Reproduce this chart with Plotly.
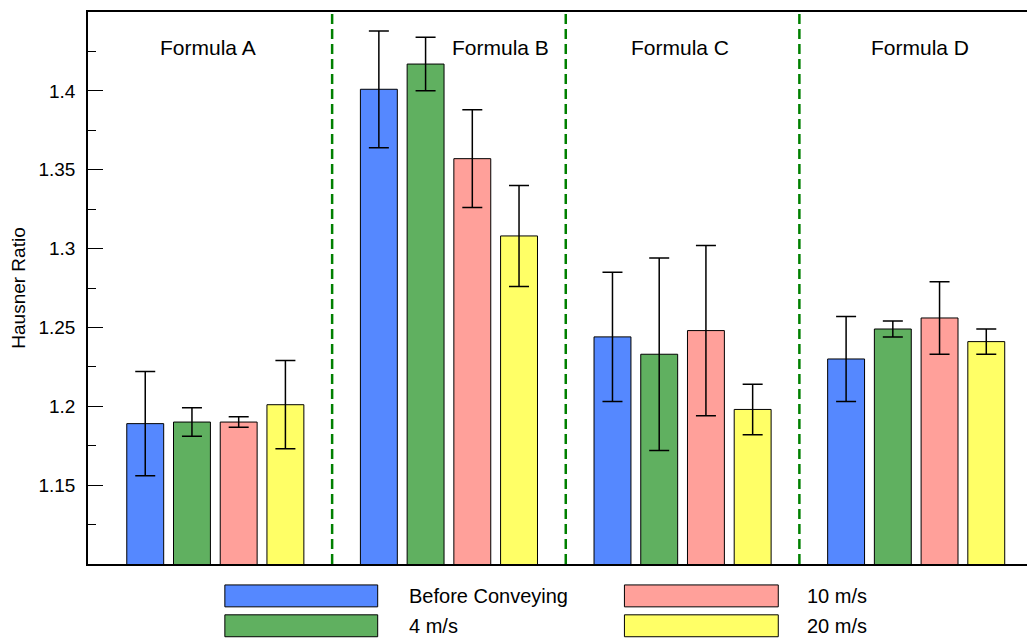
import plotly.graph_objects as go

# ---- data ----
formulas = ["Formula A", "Formula B", "Formula C", "Formula D"]
series_names = ["Before Conveying", "4 m/s", "10 m/s", "20 m/s"]
before_vals = [1.189, 1.401, 1.244, 1.230]
before_err = [0.033, 0.037, 0.041, 0.027]
v4_vals = [1.190, 1.417, 1.233, 1.249]
v4_err = [0.009, 0.017, 0.061, 0.005]
v10_vals = [1.190, 1.357, 1.248, 1.256]
v10_err = [0.0033, 0.031, 0.054, 0.023]
v20_vals = [1.201, 1.308, 1.198, 1.241]
v20_err = [0.028, 0.032, 0.016, 0.008]
ytick_vals = [1.15, 1.2, 1.25, 1.3, 1.35, 1.4]
ytick_text = ["1.15", "1.2", "1.25", "1.3", "1.35", "1.4"]

colors = ["#5588FF", "#60B060", "#FFA09A", "#FFFF66"]
values = [before_vals, v4_vals, v10_vals, v20_vals]
errors = [before_err, v4_err, v10_err, v20_err]

FONT = "Liberation Sans, Arial, sans-serif"
OFF = 8  # page body margin
W, H = 1035 - OFF, 639 - OFF
ML, MT = 87 - OFF, 10 - OFF
MR = W - (1033 - OFF)
MB = H - (564 - OFF)
PW, PH = W - ML - MR, H - MT - MB

def px(xp):
    return (xp - OFF - ML) / PW

def py(yp):
    return (H - MB - (yp - OFF)) / PH

xs = list(range(len(formulas)))

fig = go.Figure()
for name, col, vals, errs in zip(series_names, colors, values, errors):
    fig.add_trace(go.Bar(
        x=xs, y=vals, name=name,
        marker=dict(color=col, line=dict(color="black", width=1)),
        error_y=dict(type="data", array=errs, visible=True,
                     color="black", thickness=1.5, width=10),
        showlegend=False,
    ))

shapes = []
for i in range(len(formulas) - 1):
    shapes.append(dict(type="line", xref="x", yref="paper",
                       x0=i + 0.5, x1=i + 0.5, y0=0, y1=1,
                       line=dict(color="#008000", width=2.5, dash="10px,5px")))

annotations = []
label_offsets = [-0.03, 0.22, -0.01, 0.015]
for i, (f, off) in enumerate(zip(formulas, label_offsets)):
    annotations.append(dict(x=i + off, y=py(46), xref="x", yref="paper",
                            text=f, showarrow=False,
                            font=dict(family=FONT, size=21, color="black"),
                            xanchor="center", yanchor="middle"))

sw_x = [(224, 377), (224, 377), (624, 778), (624, 778)]
sw_y = [(585, 607), (615, 637), (585, 607), (615, 637)]
txt_x = [406, 406, 805, 805]
for name, col, (x0, x1), (y0, y1), tx in zip(series_names, colors, sw_x, sw_y, txt_x):
    shapes.append(dict(type="rect", xref="paper", yref="paper",
                       x0=px(x0), x1=px(x1), y0=py(y1), y1=py(y0),
                       fillcolor=col, line=dict(color="black", width=1)))
    annotations.append(dict(x=px(tx), y=py((y0 + y1) / 2), xref="paper", yref="paper",
                            text=name, showarrow=False,
                            font=dict(family=FONT, size=20, color="black"),
                            xanchor="left", yanchor="middle"))

fig.update_layout(
    width=W, height=H,
    margin=dict(l=ML, r=MR, t=MT, b=MB),
    paper_bgcolor="white", plot_bgcolor="white",
    barmode="group", bargap=0.2, bargroupgap=0.21,
    font=dict(family=FONT, size=19, color="black"),
    shapes=shapes, annotations=annotations,
    showlegend=False,
)
fig.update_xaxes(range=[-0.545, 3.5], showticklabels=False, ticks="",
                 showgrid=False, zeroline=False,
                 showline=True, linecolor="black", linewidth=1.5, mirror=True)
fig.update_yaxes(range=[1.1, 1.45], tickvals=ytick_vals, ticktext=ytick_text,
                 ticks="inside", ticklen=15, tickwidth=1, tickcolor="black",
                 ticklabelstandoff=7,
                 minor=dict(tickvals=[1.125, 1.175, 1.225, 1.275, 1.325, 1.375, 1.425],
                            ticks="inside", ticklen=8, tickwidth=1, tickcolor="black"),
                 showgrid=False, zeroline=False,
                 showline=True, linecolor="black", linewidth=1.5,
                 tickfont=dict(family=FONT, size=19),
                 title=dict(text="Hausner Ratio", font=dict(family=FONT, size=19), standoff=15))

fig.write_html("out.html")
